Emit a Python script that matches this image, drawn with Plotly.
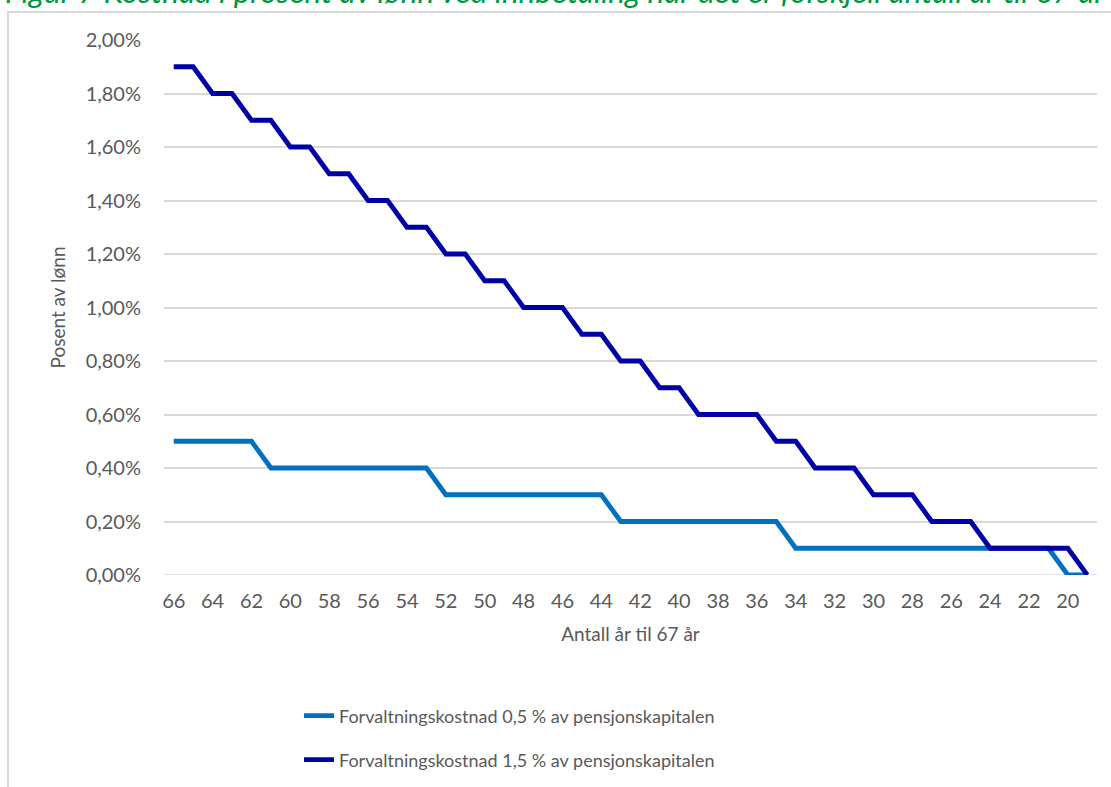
import plotly.graph_objects as go

# Years remaining until age 67 (x categories, left to right)
years = list(range(66, 18, -1))

# Cost as share of salary (fraction), management fee 0.5 % of pension capital
cost_05 = [0.005, 0.005, 0.005, 0.005, 0.005,
           0.004, 0.004, 0.004, 0.004, 0.004, 0.004, 0.004, 0.004, 0.004,
           0.003, 0.003, 0.003, 0.003, 0.003, 0.003, 0.003, 0.003, 0.003,
           0.002, 0.002, 0.002, 0.002, 0.002, 0.002, 0.002, 0.002, 0.002,
           0.001, 0.001, 0.001, 0.001, 0.001, 0.001, 0.001, 0.001, 0.001,
           0.001, 0.001, 0.001, 0.001, 0.001,
           0.000, 0.000]

# Cost as share of salary (fraction), management fee 1.5 % of pension capital
cost_15 = [0.019, 0.019, 0.018, 0.018, 0.017, 0.017, 0.016, 0.016,
           0.015, 0.015, 0.014, 0.014, 0.013, 0.013, 0.012, 0.012,
           0.011, 0.011, 0.010, 0.010, 0.010, 0.009, 0.009, 0.008,
           0.008, 0.007, 0.007, 0.006, 0.006, 0.006, 0.006, 0.005,
           0.005, 0.004, 0.004, 0.004, 0.003, 0.003, 0.003, 0.002,
           0.002, 0.002, 0.001, 0.001, 0.001, 0.001, 0.001, 0.000]

x_tick_vals = list(range(66, 19, -2))
y_tick_vals = [0.0, 0.002, 0.004, 0.006, 0.008, 0.010, 0.012, 0.014, 0.016, 0.018, 0.020]
y_tick_text = ["0,00%", "0,20%", "0,40%", "0,60%", "0,80%", "1,00%",
               "1,20%", "1,40%", "1,60%", "1,80%", "2,00%"]

name_05 = "Forvaltningskostnad 0,5 % av pensjonskapitalen"
name_15 = "Forvaltningskostnad 1,5 % av pensjonskapitalen"
title_text = "Figur 7 Kostnad i prosent av lønn ved innbetaling når det er forskjell antall år til 67 år"

W, H = 1111, 787
L, R, T, B = 164, 14, 40, 212
PW, PH = W - L - R, H - T - B


def px_x(px):
    return (px - L) / PW


def px_y(py):
    return 1 - (py - T) / PH


FONT = "Lato"
GREY = "#595959"
GRID = "#d9d9d9"

fig = go.Figure()
fig.add_trace(go.Scatter(
    x=years, y=cost_05, mode="lines", name=name_05,
    line=dict(color="#0070C0", width=4.8), legend="legend"))
fig.add_trace(go.Scatter(
    x=years, y=cost_15, mode="lines", name=name_15,
    line=dict(color="#0000A8", width=4.8), legend="legend2"))

fig.update_layout(
    width=W, height=H,
    margin=dict(l=L, r=R, t=T, b=B, autoexpand=False),
    paper_bgcolor="white", plot_bgcolor="white",
    font=dict(family=FONT, color=GREY, size=20),
    xaxis=dict(
        range=[66.5, 18.5], tickmode="array", tickvals=x_tick_vals,
        ticktext=[str(v) for v in x_tick_vals],
        showgrid=False, zeroline=False, showline=False, ticks="",
        ticklabelstandoff=12,
        tickfont=dict(size=20, color=GREY),
        title=dict(text="Antall år til 67 år", font=dict(size=19, color=GREY), standoff=16),
    ),
    yaxis=dict(
        range=[0, 0.02], tickmode="array", tickvals=y_tick_vals, ticktext=y_tick_text,
        showgrid=True, gridcolor=GRID, gridwidth=1.6, zeroline=False, showline=False,
        ticks="", ticklabelstandoff=22,
        tickfont=dict(size=20, color=GREY),
        title=dict(text="Posent av lønn", font=dict(size=19, color=GREY), standoff=14),
    ),
    legend=dict(x=px_x(299), y=px_y(716), xanchor="left", yanchor="middle",
                font=dict(size=18, color=GREY), bgcolor="rgba(0,0,0,0)"),
    legend2=dict(x=px_x(299), y=px_y(760), xanchor="left", yanchor="middle",
                 font=dict(size=18, color=GREY), bgcolor="rgba(0,0,0,0)"),
    showlegend=True,
)

# Baseline gridline at 0 %
fig.add_shape(type="line", xref="paper", yref="y", x0=0, x1=1, y0=0, y1=0,
              line=dict(color=GRID, width=1.6), layer="below")

# Chart frame (left and top edges)
fig.add_shape(type="rect", xref="paper", yref="paper",
              x0=px_x(8), x1=px_x(1130), y0=px_y(800), y1=px_y(12),
              line=dict(color=GRID, width=2), fillcolor="rgba(0,0,0,0)", layer="below")

# Figure caption above the chart frame
fig.add_annotation(text="<i>" + title_text + "</i>", xref="paper", yref="paper",
                   x=px_x(3), y=px_y(12), xanchor="left", yanchor="bottom",
                   showarrow=False, font=dict(family=FONT, size=31.5, color="#00963F"))

fig.write_html("out.html")
